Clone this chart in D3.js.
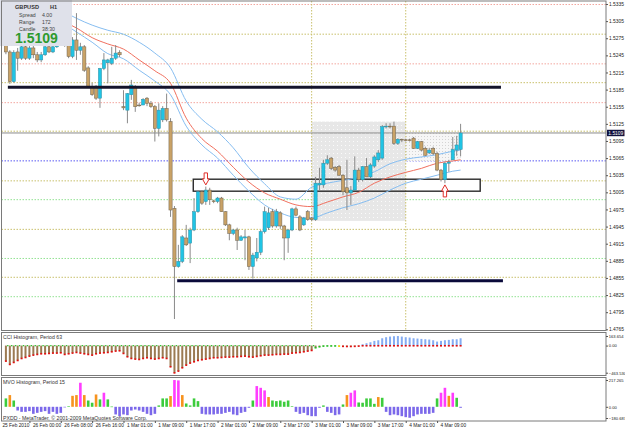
<!DOCTYPE html>
<html><head><meta charset="utf-8">
<script src="https://cdn.jsdelivr.net/npm/d3@7"></script>
<style>
html,body{margin:0;padding:0;background:#fff;}
svg{display:block;font-family:"Liberation Sans",Arial,sans-serif;}
</style></head><body>
<svg id="c" width="625" height="429"></svg>
<script>
// ---------- DATA ----------
const opens  = [1.5268,1.5251,1.5199,1.5251,1.5240,1.5260,1.5240,1.5258,1.5246,1.5237,
1.5246,1.5260,1.5251,1.5260,1.5268,1.5272,1.5263,1.5243,1.5272,1.5254,
1.5260,1.5223,1.5190,1.5191,1.5170,1.5222,1.5232,1.5231,1.5240,1.5250,
1.5155,1.5149,1.5176,1.5190,1.5158,1.5158,1.5170,1.5161,1.5155,1.5117,
1.5132,1.5152,1.5129,1.4977,1.4875,1.4884,1.4925,1.4916,1.4939,1.4971,
1.5006,1.4989,1.5009,1.4990,1.4989,1.4995,1.4971,1.4948,1.4933,1.4939,
1.4921,1.4925,1.4927,1.4875,1.4890,1.4900,1.4936,1.4943,1.4971,1.4946,
1.4969,1.4946,1.4925,1.4939,1.4976,1.4962,1.4948,1.4971,1.4960,1.4957,
1.5018,1.5018,1.5056,1.5065,1.5049,1.5050,1.5035,1.5013,1.5004,1.5009,
1.5044,1.5027,1.5050,1.5032,1.5051,1.5062,1.5065,1.5120,1.5121,1.5121,
1.5091,1.5098,1.5097,1.5097,1.5100,1.5082,1.5094,1.5082,1.5074,1.5082,
1.5073,1.5044,1.5027,1.5056,1.5062,1.5079,1.5080];
const highs  = [1.5275,1.5254,1.5254,1.5258,1.5263,1.5263,1.5265,1.5265,1.5251,1.5251,
1.5265,1.5265,1.5265,1.5275,1.5279,1.5277,1.5265,1.5277,1.5319,1.5267,
1.5263,1.5226,1.5197,1.5193,1.5223,1.5249,1.5239,1.5260,1.5263,1.5254,
1.5184,1.5179,1.5202,1.5193,1.5162,1.5170,1.5172,1.5165,1.5158,1.5161,
1.5156,1.5178,1.5135,1.4981,1.4913,1.4930,1.4948,1.4943,1.4995,1.5009,
1.5009,1.5015,1.5013,1.4992,1.4997,1.4997,1.4972,1.4950,1.4941,1.4943,
1.4930,1.4939,1.4929,1.4899,1.4925,1.4939,1.4980,1.4978,1.4976,1.4976,
1.4972,1.4948,1.4941,1.4978,1.4980,1.4965,1.4962,1.4974,1.4962,1.5032,
1.5048,1.5062,1.5070,1.5067,1.5051,1.5053,1.5037,1.5062,1.5016,1.5068,
1.5048,1.5051,1.5065,1.5056,1.5070,1.5079,1.5123,1.5126,1.5126,1.5129,
1.5100,1.5099,1.5099,1.5099,1.5102,1.5095,1.5095,1.5085,1.5083,1.5085,
1.5076,1.5046,1.5059,1.5062,1.5102,1.5104,1.5125];
const lows   = [1.5247,1.5195,1.5197,1.5218,1.5237,1.5237,1.5237,1.5240,1.5233,1.5233,
1.5244,1.5249,1.5249,1.5258,1.5263,1.5260,1.5240,1.5240,1.5237,1.5246,
1.5216,1.5188,1.5174,1.5167,1.5153,1.5219,1.5196,1.5228,1.5237,1.5242,
1.5149,1.5126,1.5167,1.5146,1.5155,1.5158,1.5156,1.5153,1.5094,1.5103,
1.5128,1.5129,1.4962,1.4783,1.4873,1.4881,1.4911,1.4881,1.4937,1.4969,
1.4983,1.4983,1.4983,1.4986,1.4986,1.4971,1.4946,1.4921,1.4930,1.4904,
1.4920,1.4886,1.4869,1.4854,1.4884,1.4895,1.4933,1.4939,1.4943,1.4943,
1.4941,1.4886,1.4899,1.4937,1.4963,1.4937,1.4946,1.4955,1.4955,1.4955,
1.5009,1.5013,1.5053,1.5044,1.5041,1.5034,1.5000,1.4974,1.4983,1.5009,
1.5023,1.5024,1.5032,1.5030,1.5048,1.5058,1.5062,1.5117,1.5117,1.5088,
1.5088,1.5093,1.5094,1.5094,1.5081,1.5081,1.5077,1.5069,1.5072,1.5070,
1.5042,1.5024,1.5021,1.5041,1.5062,1.5069,1.5068];
const closes = [1.5251,1.5199,1.5250,1.5240,1.5260,1.5240,1.5258,1.5246,1.5237,1.5246,
1.5260,1.5251,1.5260,1.5268,1.5272,1.5263,1.5243,1.5272,1.5254,1.5260,
1.5219,1.5190,1.5176,1.5170,1.5222,1.5237,1.5237,1.5240,1.5249,1.5246,
1.5153,1.5178,1.5193,1.5155,1.5157,1.5168,1.5161,1.5155,1.5117,1.5149,
1.5152,1.5132,1.4974,1.4875,1.4884,1.4927,1.4913,1.4939,1.4971,1.5006,
1.4986,1.5009,1.4992,1.4989,1.4995,1.4971,1.4948,1.4933,1.4939,1.4921,
1.4927,1.4927,1.4875,1.4895,1.4900,1.4936,1.4971,1.4969,1.4946,1.4971,
1.4946,1.4925,1.4939,1.4976,1.4965,1.4939,1.4960,1.4957,1.4957,1.5021,
1.5021,1.5056,1.5062,1.5047,1.5044,1.5035,1.5006,1.5004,1.5009,1.5044,
1.5027,1.5050,1.5032,1.5053,1.5067,1.5074,1.5120,1.5121,1.5120,1.5091,
1.5098,1.5097,1.5096,1.5097,1.5082,1.5094,1.5079,1.5070,1.5079,1.5073,
1.5044,1.5027,1.5056,1.5058,1.5080,1.5088,1.5109];

const cci = [-262,-319,-285,-251,-217,-200,-177,-160,-148,-137,
-137,-131,-125,-125,-120,-148,-137,-125,-114,-125,
-137,-148,-160,-137,-125,-120,-114,-103,-91,-86,
-131,-188,-217,-228,-234,-217,-205,-217,-228,-217,
-205,-217,-359,-463,-433,-376,-331,-296,-274,-251,
-239,-228,-217,-205,-205,-200,-194,-194,-188,-188,
-182,-177,-188,-194,-182,-171,-160,-160,-154,-148,
-148,-143,-143,-125,-120,-114,-103,-91,-80,-34,
-17,-6,-3,-3,-3,-6,-10,-12,-12,-10,
-6,23,40,57,80,91,125,143,154,160,
163,154,143,137,125,120,114,108,103,91,
68,80,91,97,108,108,125];
const cciMarkFrom = [0,79,85,86];
const cciMarkTo   = [78,84,85,116];
const cciMarkCode = ["r","g","y","r"];

const mvo = [68,95,51,-30,-41,-41,-35,-57,-49,-41,
-35,-57,-41,-57,-49,-3,5,89,95,195,
95,51,33,100,60,114,60,2,-62,-76,
-62,-68,-30,-22,-30,-41,-57,-68,-57,11,
68,68,87,217,214,95,27,11,68,46,
-57,-62,-62,-62,-57,-57,-49,-41,-62,-68,
-49,-41,-8,51,168,154,133,79,51,46,
51,41,51,5,-41,-57,-49,-68,-76,-76,
-8,11,-41,-49,-68,-62,19,95,114,133,
35,33,68,68,24,79,73,-41,-68,-62,
-68,-76,-84,-89,-76,-62,-57,-57,-57,-49,
68,114,154,89,114,73,-8];

const maIdx   = [16,18,22,26,30,34,38,42,46,50,54,58,62,66,70,74,78,82,86,90,94,98,102,106,110,114,116];
const maUpper = [1.5317,1.5310,1.5298,1.5289,1.5282,1.5268,1.5249,1.5223,1.5165,1.5133,1.5111,1.5083,1.5048,1.5020,1.4997,1.4993,1.5014,1.5021,1.5026,1.5031,1.5041,1.5055,1.5063,1.5067,1.5071,1.5077,1.5079];
const maMid   = [1.5300,1.5293,1.5276,1.5265,1.5256,1.5237,1.5218,1.5196,1.5135,1.5099,1.5077,1.5049,1.5023,1.5004,1.4993,1.4983,1.4980,1.4988,1.4997,1.5005,1.5021,1.5032,1.5040,1.5047,1.5056,1.5060,1.5062];
const maLower = [1.5295,1.5286,1.5268,1.5248,1.5239,1.5219,1.5200,1.5176,1.5121,1.5088,1.5065,1.5035,1.5007,1.4983,1.4969,1.4961,1.4960,1.4969,1.4978,1.4985,1.4995,1.5009,1.5021,1.5028,1.5035,1.5042,1.5044];

const levelPrices = [1.5335,1.5283,1.5231,1.5198,1.5163,1.5113,1.5061,1.5026,1.4993,1.4941,1.4890,1.4857,1.4823];
const levelKinds  = ["s","o","s","o","s","o","b","o","g","o","g","o","g"];

const trendStart = [0.5,43.7];
const trendEnd   = [126.3,126.8];
const trendPrice = [1.5189,1.4850];

const boxStart  = [47.8,78,102];
const boxEnd    = [121,102,116];
const boxTop    = [1.5028,1.5129,1.5111];
const boxBottom = [1.5007,1.4955,1.5060];
const boxKind   = ["zone","day","today"];

const arrowIdx   = [51,112];
const arrowPrice = [1.5018,1.5018];
const arrowDir   = ["down","up"];

const separatorIdx = [78,102];

const priceTicks = [1.5335,1.5305,1.5275,1.5245,1.5215,1.5185,1.5155,1.5125,1.5095,1.5065,1.5035,1.5005,1.4975,1.4945,1.4915,1.4885,1.4855,1.4825,1.4795,1.4765];
const timeIdx    = [0,6,14,22,30,38,46,54,62,70,78,86,94,102,110];
const timeLabels = ["25 Feb 2010","26 Feb 00:00","26 Feb 08:00","26 Feb 16:00","1 Mar 01:00","1 Mar 09:00","1 Mar 17:00","2 Mar 01:00","2 Mar 09:00","2 Mar 17:00","3 Mar 01:00","3 Mar 09:00","3 Mar 17:00","4 Mar 01:00","4 Mar 09:00"];
const cciTicks = [163.654,0,-463.530];
const mvoTicks = [217.265,0,-180.687];
const lastPrice = 1.5109;
const infoLines = [["Spread","4.00"],["Range","172"],["Candle","38:30"]];

// ---------- LAYOUT ----------
const svg = d3.select("#c");
const L = 1.5, R = 606;
const mainT = 1, mainB = 330.5, cciT = 332.5, cciB = 375.5, mvoT = 377.5, mvoB = 421;
const N = opens.length;
const x = d3.scaleLinear().domain([0,116]).range([5.9,460.6]);
const y = d3.scaleLinear().domain([1.4765,1.5335]).range([329.3,4]);
const yC = d3.scaleLinear().domain([-463.53,163.654]).range([372.7,336]);
const yM = d3.scaleLinear().domain([0,217.265]).range([406.8,380]);
const yMaxis = d3.scaleLinear().domain([-180.687,0,217.265]).range([418,406.8,380]);

svg.append("rect").attr("width",625).attr("height",429).attr("fill","#fff");
const defs = svg.append("defs");
defs.append("clipPath").attr("id","cm").append("rect").attr("x",L).attr("y",mainT).attr("width",R-L).attr("height",mainB-mainT);
const p1 = defs.append("pattern").attr("id","dayPat").attr("width",4).attr("height",4).attr("patternUnits","userSpaceOnUse");
p1.append("rect").attr("width",4).attr("height",4).attr("fill","#e7e7e7");
p1.append("rect").attr("x",1).attr("y",1).attr("width",1).attr("height",1).attr("fill","#fbfbfb");
const p2 = defs.append("pattern").attr("id","todayPat").attr("width",3).attr("height",3).attr("patternUnits","userSpaceOnUse");
p2.append("rect").attr("width",3).attr("height",3).attr("fill","#f6f6f6");
p2.append("rect").attr("x",1).attr("y",1).attr("width",1).attr("height",1).attr("fill","#d4d4d4");

const main = svg.append("g").attr("clip-path","url(#cm)");
const levelColor = d3.scaleOrdinal().domain(["s","o","b","g"]).range(["#f3a79f","#c9c06c","#5a5af2","#92e292"]);

main.selectAll("line.lvl").data(levelPrices).join("line")
  .attr("x1",L).attr("x2",R).attr("y1",d=>y(d)+0.5).attr("y2",d=>y(d)+0.5)
  .attr("stroke",(d,k)=>levelColor(levelKinds[k])).attr("stroke-width",1).attr("stroke-dasharray","1.5,1.5");

const boxes = d3.range(boxStart.length).map(k=>({k,s:boxStart[k],e:boxEnd[k],t:boxTop[k],b:boxBottom[k],kind:boxKind[k]}));
const boxFill = {zone:"#ffffff",day:"url(#dayPat)",today:"url(#todayPat)"};
main.selectAll("rect.box").data(boxes).join("rect")
  .attr("x",d=>x(d.s)).attr("width",d=>x(d.e)-x(d.s))
  .attr("y",d=>y(d.t)).attr("height",d=>y(d.b)-y(d.t))
  .attr("fill",d=>boxFill[d.kind]);
main.selectAll("line.sep").data(separatorIdx).join("line")
  .attr("x1",d=>x(d)).attr("x2",d=>x(d)).attr("y1",mainT).attr("y2",mainB)
  .attr("stroke","#c9c06c").attr("stroke-dasharray","1.5,1.5");
main.selectAll("rect.zo").data(boxes.filter(d=>d.kind==="zone")).join("rect")
  .attr("x",d=>x(d.s)).attr("width",d=>x(d.e)-x(d.s))
  .attr("y",d=>y(d.t)).attr("height",d=>y(d.b)-y(d.t))
  .attr("fill","none").attr("stroke","#2a2a2a").attr("stroke-width",1.4);
main.append("line").attr("x1",L).attr("x2",R).attr("y1",y(lastPrice)).attr("y2",y(lastPrice))
  .attr("stroke","#8a8a8a").attr("stroke-width",1);

const maLine = vals => d3.line().x((d,k)=>x(maIdx[k])).y(d=>y(d)).curve(d3.curveMonotoneX)(vals);
[[maUpper,"#86bdf0"],[maLower,"#86bdf0"],[maMid,"#f0705f"]].forEach(([v,c])=>{
  main.append("path").attr("d",maLine(v)).attr("fill","none").attr("stroke",c).attr("stroke-width",1);
});

const bars = d3.range(N).map(i=>({i,o:opens[i],h:highs[i],l:lows[i],c:closes[i]}));
main.selectAll("line.wick").data(bars).join("line")
  .attr("x1",d=>x(d.i)).attr("x2",d=>x(d.i)).attr("y1",d=>y(d.h)).attr("y2",d=>y(d.l))
  .attr("stroke","#8a8a8a").attr("stroke-width",1);
main.selectAll("rect.body").data(bars).join("rect")
  .attr("x",d=>x(d.i)-1.6).attr("width",3.2)
  .attr("y",d=>y(Math.max(d.o,d.c))).attr("height",d=>Math.max(0.8,Math.abs(y(d.o)-y(d.c))))
  .attr("fill",d=>d.c>d.o?"#20c4e4":"#c9a266")
  .attr("stroke",d=>d.c>d.o?"#2f8fa6":"#6e6350").attr("stroke-width",0.5);

main.selectAll("line.tl").data(trendPrice).join("line")
  .attr("x1",(d,k)=>x(trendStart[k])).attr("x2",(d,k)=>x(trendEnd[k]))
  .attr("y1",d=>y(d)).attr("y2",d=>y(d))
  .attr("stroke",(d,k)=>k===0?"#14142a":"#0b0b3a").attr("stroke-width",3);

arrowIdx.forEach((ai,k)=>{
  const cx = x(ai), ty = y(arrowPrice[k]), s = arrowDir[k]==="down"?-1:1;
  const pts = [[cx,ty],[cx+3.4,ty+s*6],[cx+1.7,ty+s*6],[cx+1.7,ty+s*12],[cx-1.7,ty+s*12],[cx-1.7,ty+s*6],[cx-3.4,ty+s*6]];
  main.append("path").attr("d",d3.line()(pts)+"Z").attr("fill","#fff").attr("stroke","#e0302a").attr("stroke-width",1);
});

// info box
const info = svg.append("g");
info.append("rect").attr("x",0).attr("y",0).attr("width",72).attr("height",46).attr("fill","#dfe1ea");
info.append("text").attr("x",15).attr("y",8.5).attr("font-size",5.6).attr("font-weight","bold").attr("fill","#333").text("GBPUSD");
info.append("text").attr("x",50).attr("y",8.5).attr("font-size",5.6).attr("font-weight","bold").attr("fill","#333").text("H1");
info.selectAll("text.il").data(infoLines).join("text")
  .attr("x",19).attr("y",(d,k)=>17+k*6.8).attr("font-size",5.2).attr("fill","#444").text(d=>d[0]);
info.selectAll("text.iv").data(infoLines).join("text")
  .attr("x",42).attr("y",(d,k)=>17+k*6.8).attr("font-size",5.2).attr("fill","#444").text(d=>d[1]);
info.append("text").attr("x",15).attr("y",43.3).attr("font-size",14).attr("font-weight","bold").attr("fill","#2e9a2e").text(d3.format(".4f")(lastPrice));

// ---------- CCI panel ----------
const cg = svg.append("g");
const markColor = {r:"#e01010",g:"#22c022",y:"#e8d000"};
cg.selectAll("rect.cb").data(cci).join("rect")
  .attr("x",(d,i)=>x(i)-1).attr("width",2)
  .attr("y",d=>Math.min(yC(d),yC(0))).attr("height",d=>Math.abs(yC(d)-yC(0)))
  .attr("fill",d=>d<0?"#9b7a52":"#84acf2");
cciMarkFrom.forEach((f,k)=>{
  const idx = d3.range(f,cciMarkTo[k]+1);
  cg.selectAll(null).data(idx).join("rect")
    .attr("x",i=>x(i)-1).attr("y",i=>yC(Math.min(0,cci[i]))-0.6).attr("width",2).attr("height",1.6)
    .attr("fill",markColor[cciMarkCode[k]]);
  if(cciMarkCode[k]==="r" && k===0){
    cg.selectAll(null).data(idx).join("rect")
      .attr("x",i=>x(i)+1.2).attr("y",yC(0)-0.5).attr("width",1.4).attr("height",1.2).attr("fill","#22c022");
  }
});
cg.append("text").attr("x",3).attr("y",338.8).attr("font-size",5.2).attr("fill","#333").text("CCI Histogram, Period 63");

// ---------- MVO panel ----------
const mg = svg.append("g");
const mvoColor = d3.scaleThreshold().domain([0.5,76,105]).range(["#7b68ea","#3ccc3c","#f7931e","#ff3cff"]);
mg.selectAll("rect.mb").data(mvo).join("rect")
  .attr("x",(d,i)=>x(i)-1.3).attr("width",2.6)
  .attr("y",d=>Math.min(yM(d),yM(0))).attr("height",d=>Math.max(0.6,Math.abs(yM(d)-yM(0))))
  .attr("fill",d=>mvoColor(d));
mg.append("text").attr("x",3).attr("y",383.8).attr("font-size",5.2).attr("fill","#333").text("MVO Histogram, Period 15");
mg.append("text").attr("x",3).attr("y",419.5).attr("font-size",5.2).attr("fill","#333").text("PXDD - MetaTrader, \u00a9 2001-2009 MetaQuotes Software Corp.");

// ---------- frames ----------
const fr = svg.append("g").attr("fill","none").attr("stroke","#7a7a7a").attr("stroke-width",1);
[[mainT,mainB],[cciT,cciB],[mvoT,mvoB]].forEach(([t,b])=>{
  fr.append("rect").attr("x",L).attr("y",t).attr("width",R-L).attr("height",b-t);
});

// ---------- axes ----------
function styleAxis(fs){
  return g=>{
    g.select(".domain").remove();
    g.selectAll(".tick line").attr("stroke","#555");
    g.selectAll(".tick text").attr("font-size",fs).attr("fill","#222").attr("font-family","Liberation Sans, Arial, sans-serif");
  };
}
svg.append("g").attr("transform",`translate(${R},0)`)
  .call(d3.axisRight(y).tickValues(priceTicks).tickFormat(d3.format(".4f")).tickSize(2).tickPadding(1))
  .call(styleAxis(4.9));
svg.append("g").attr("transform",`translate(${R},0)`)
  .call(d3.axisRight(yC).tickValues(cciTicks).tickFormat(d=>d===0?"0.00":d3.format(".3f")(d)).tickSize(2).tickPadding(0.8))
  .call(styleAxis(4.1));
svg.append("g").attr("transform",`translate(${R},0)`)
  .call(d3.axisRight(yMaxis).tickValues(mvoTicks).tickFormat(d=>d===0?"0.00":d3.format(".3f")(d)).tickSize(2).tickPadding(0.8))
  .call(styleAxis(4.1));
svg.append("rect").attr("x",607).attr("y",y(lastPrice)-3.2).attr("width",17.5).attr("height",6.4).attr("fill","#12123e");
svg.append("text").attr("x",608.3).attr("y",y(lastPrice)+1.8).attr("font-size",4.9).attr("fill","#fff").text(d3.format(".4f")(lastPrice));

const tg = svg.append("g").attr("transform",`translate(0,${mvoB})`)
  .call(d3.axisBottom(x).tickValues(timeIdx).tickFormat((d,k)=>timeLabels[k]).tickSize(2).tickPadding(1.5))
  .call(styleAxis(4.8));
tg.selectAll(".tick text").attr("text-anchor","start").attr("dx",(d,k)=>k===0?-4:3).attr("dy","0.55em");
tg.selectAll(".tick line").filter((d,k)=>k===0).remove();
</script>
</body></html>
